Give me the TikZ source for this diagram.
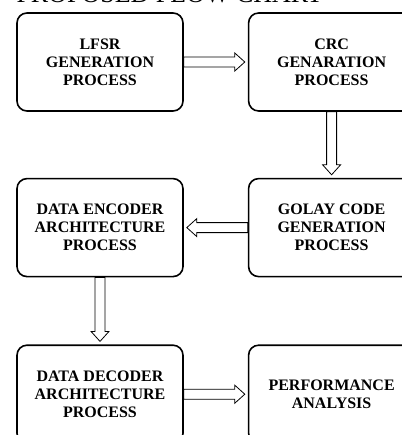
\documentclass[tikz,border=0pt]{standalone}
\usepackage{fontspec}
\setmainfont{Liberation Serif}
\usepackage{tikz}
\usetikzlibrary{positioning, calc}

\tikzset{
  procbox/.style={draw=black, line width=1.6pt, rounded corners=10pt,
    minimum width=166pt, minimum height=98pt, align=center,
    font=\fontsize{16}{18}\selectfont\bfseries},
  hollow/.style={draw=black, line width=0.8pt, line join=miter}
}
% outlined block arrow from #1 to #2
\newcommand{\hollowarrow}[2]{%
  \path ($(#2)!3pt!(#1)$) coordinate (tipp);
  \path ($(tipp)!10pt!(#1)$) coordinate (hb);
  \draw[hollow] ($(#1)!5pt!90:(tipp)$) -- ($(hb)!5pt!-90:(#1)$) -- ($(hb)!9pt!-90:(#1)$)
    -- (tipp) -- ($(hb)!9pt!90:(#1)$) -- ($(hb)!5pt!90:(#1)$) -- ($(#1)!5pt!-90:(tipp)$) -- cycle;
}

\begin{document}
\begin{tikzpicture}[x=1pt, y=1pt]
  \path[use as bounding box, fill=white] (0,0) rectangle (401,-435);

  \node[anchor=base west, font=\fontsize{26}{30}\selectfont] (title) at (13,-3) {PROPOSED FLOW CHART};

  \node[procbox] (lfsr) at (100,-62) {LFSR\\GENERATION\\PROCESS};
  \node[procbox, right=64pt of lfsr] (crc) {CRC\\GENARATION\\PROCESS};
  \node[procbox, below=66pt of crc] (golay) {GOLAY CODE\\GENERATION\\PROCESS};
  \node[procbox, left=64pt of golay] (encoder) {DATA ENCODER\\ARCHITECTURE\\PROCESS};
  \node[procbox, below=67pt of encoder] (decoder) {DATA DECODER\\ARCHITECTURE\\PROCESS};
  \node[procbox, right=64pt of decoder] (perf) {PERFORMANCE\\ANALYSIS};

  \hollowarrow{lfsr.east}{crc.west}
  \hollowarrow{crc.south}{golay.north}
  \hollowarrow{golay.west}{encoder.east}
  \hollowarrow{encoder.south}{decoder.north}
  \hollowarrow{decoder.east}{perf.west}
\end{tikzpicture}
\end{document}
